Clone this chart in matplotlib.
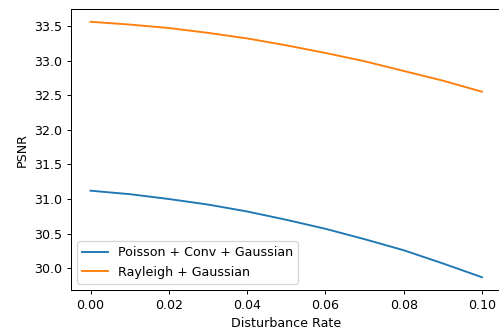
import numpy as np
import matplotlib
matplotlib.use("Agg")
import matplotlib.pyplot as plt

# =============================================================================
# DATA
# =============================================================================

rates = [0.00, 0.01, 0.02, 0.03, 0.04, 0.05, 0.06, 0.07, 0.08, 0.09, 0.10]

psnr_poisson = [31.12, 31.07, 31.00, 30.92, 30.82, 30.70,
                30.57, 30.42, 30.26, 30.07, 29.87]
psnr_rayleigh = [33.56, 33.52, 33.47, 33.40, 33.32, 33.22,
                 33.11, 32.99, 32.85, 32.71, 32.55]

labels = ["Poisson + Conv + Gaussian", "Rayleigh + Gaussian"]

# =============================================================================
# PLOT
# =============================================================================

DPI = 91
plt.rcParams.update({"font.size": 10})

fig = plt.figure(figsize=(499 / DPI, 329 / DPI), dpi=DPI)
ax = fig.add_axes([0.1423, 0.1185, 0.8627, 0.8541])

ax.plot(rates, psnr_poisson, lw=1.5, label=labels[0])
ax.plot(rates, psnr_rayleigh, lw=1.5, label=labels[1])

ax.set_xlabel("Disturbance Rate")
ax.set_ylabel("PSNR")
ax.set_xticks([0.00, 0.02, 0.04, 0.06, 0.08, 0.10])
ax.legend(loc="lower left")

fig.savefig("out.png", dpi=DPI)
